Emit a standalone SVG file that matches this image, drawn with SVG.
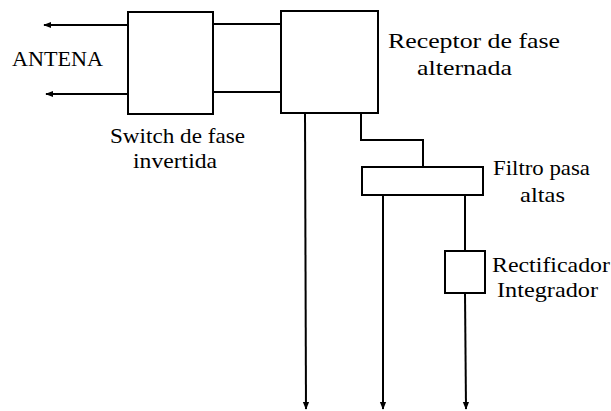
<svg xmlns="http://www.w3.org/2000/svg" width="611" height="411" viewBox="0 0 611 411">
<style>
.box{fill:#fff;stroke:#000;stroke-width:2}
.ln{fill:none;stroke:#000;stroke-width:2}
text{font-family:"Liberation Serif","Times New Roman",serif;font-size:21px;fill:#000}
</style>
<defs>
<marker id="ah" viewBox="0 0 10 10" refX="9" refY="5" markerWidth="4" markerHeight="4" orient="auto" markerUnits="strokeWidth">
<path d="M0,1 L10,5 L0,9 z" fill="#000"/>
</marker>
</defs>
<rect width="611" height="411" fill="#fff"/>
<g id="connectors">
<line class="ln" x1="128" y1="25" x2="44" y2="25" marker-end="url(#ah)"/>
<line class="ln" x1="128" y1="94" x2="46" y2="94" marker-end="url(#ah)"/>
<line class="ln" x1="213" y1="24" x2="281" y2="24"/>
<line class="ln" x1="213" y1="92" x2="281" y2="92"/>
<line class="ln" x1="305" y1="113" x2="306" y2="409" marker-end="url(#ah)"/>
<polyline class="ln" points="361,113 361,140 423,140 423,167"/>
<line class="ln" x1="383" y1="195" x2="383" y2="409" marker-end="url(#ah)"/>
<line class="ln" x1="465" y1="195" x2="465" y2="251"/>
<line class="ln" x1="465" y1="293" x2="466" y2="409" marker-end="url(#ah)"/>
</g>
<g id="antena"><text x="12" y="66" textLength="91" lengthAdjust="spacingAndGlyphs">ANTENA</text></g>
<g id="switch">
<rect class="box" x="128" y="12" width="85" height="102"/>
<text x="110" y="143" textLength="135" lengthAdjust="spacingAndGlyphs">Switch de fase</text>
<text x="133" y="168" textLength="84" lengthAdjust="spacingAndGlyphs">invertida</text>
</g>
<g id="receptor">
<rect class="box" x="281" y="11" width="97" height="102"/>
<text x="388" y="48" textLength="172" lengthAdjust="spacingAndGlyphs">Receptor de fase</text>
<text x="417" y="75" textLength="95" lengthAdjust="spacingAndGlyphs">alternada</text>
</g>
<g id="filtro">
<rect class="box" x="362" y="167" width="121" height="28"/>
<text x="493" y="175" textLength="97" lengthAdjust="spacingAndGlyphs">Filtro pasa</text>
<text x="520" y="202" textLength="45" lengthAdjust="spacingAndGlyphs">altas</text>
</g>
<g id="rectificador">
<rect class="box" x="445" y="251" width="40" height="42"/>
<text x="492" y="272" textLength="118" lengthAdjust="spacingAndGlyphs">Rectificador</text>
<text x="497" y="297" textLength="101" lengthAdjust="spacingAndGlyphs">Integrador</text>
</g>
</svg>
